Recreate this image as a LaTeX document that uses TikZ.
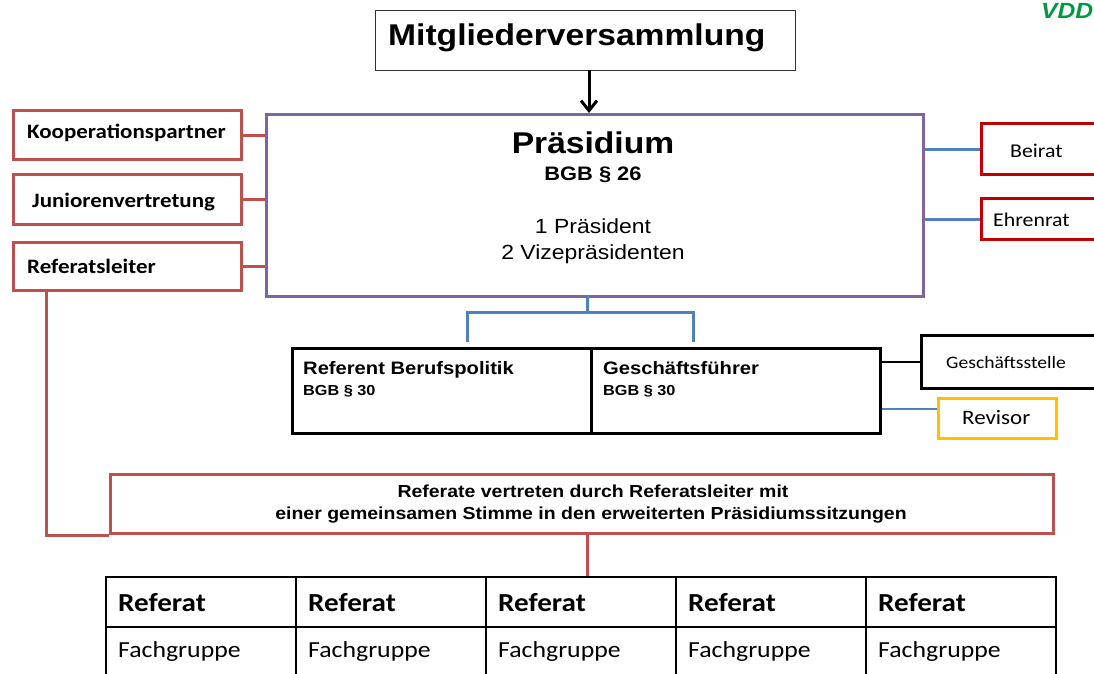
\documentclass[tikz,border=0pt]{standalone}
\usepackage{fontspec}
\setmainfont{Liberation Sans}[FakeStretch=1.12]
\newfontfamily\calib{Carlito}[FakeStretch=1.12]
\usetikzlibrary{arrows.meta}
\definecolor{cpurple}{HTML}{8064A2}
\definecolor{cred}{HTML}{C0504D}
\definecolor{cdred}{HTML}{C00000}
\definecolor{cblue}{HTML}{4F81BD}
\definecolor{cyel}{HTML}{FFC000}
\definecolor{cgreen}{HTML}{009A44}
\newcommand{\fs}[1]{\fontsize{#1}{#1}\selectfont}
\begin{document}
\begin{tikzpicture}[x=1pt,y=-1pt,
  box/.style={draw, inner sep=0pt, anchor=north west},
  txt/.style={anchor=base west, inner sep=0pt},
  redbox/.style={box, draw=cred, line width=3pt},
  dredbox/.style={box, draw=cdred, line width=3pt},
  blkbox/.style={box, draw=black, line width=2.5pt},
  redline/.style={draw=cred, line width=3pt},
  blueline/.style={draw=cblue, line width=3pt},
  cell/.style={box, draw=black, line width=1.5pt, minimum width=190pt}]
\clip (0,0) rectangle (1094,673);
\fill[white] (0,0) rectangle (1094,673);

% VDD
\node[txt, text=cgreen, font=\bfseries\itshape\fs{22}] (vdd) at (1041,18) {VDD};

% Mitgliederversammlung
\node[box, draw=black!80, line width=1pt, minimum width=420pt, minimum height=60pt] (mv) at (375,10) {};
\node[txt, font=\bfseries\fs{30}] (mvt) at (388,45) {Mitgliederversammlung};

% Praesidium
\node[box, draw=cpurple, line width=3pt, minimum width=657pt, minimum height=182pt] (pr) at (265,113) {};
\node[anchor=base, inner sep=0pt, font=\bfseries\fs{30}] (prt) at (593,153) {Präsidium};
\node[anchor=base, inner sep=0pt, font=\bfseries\fs{19.5}] (prb) at (593,180) {BGB § 26};
\node[anchor=base, inner sep=0pt, font=\fs{20.5}] (prp) at (593,233) {1 Präsident};
\node[anchor=base, inner sep=0pt, font=\fs{20.5}] (prv) at (593,259) {2 Vizepräsidenten};

\coordinate (ar) at (589,70);
\draw[-{Straight Barb[length=10pt,width=16pt]}, line width=3pt] (ar) -- (ar |- pr.north);

% left boxes
\node[redbox, minimum width=228pt, minimum height=49pt] (kp) at (12,109) {};
\node[txt, font=\calib\bfseries\fs{20.5}] (kpt) at (27,138) {Kooperationspartner};
\node[redbox, minimum width=228pt, minimum height=50pt] (jv) at (12,173) {};
\node[txt, font=\calib\bfseries\fs{20.5}] (jvt) at (32,207) {Juniorenvertretung};
\node[redbox, minimum width=228pt, minimum height=48pt] (rl) at (12,241) {};
\node[txt, font=\calib\bfseries\fs{20.5}] (rlt) at (27,273) {Referatsleiter};

\draw[redline] (kp.east) -- (kp.east -| pr.west);
\draw[redline] (jv.east) -- (jv.east -| pr.west);
\draw[redline] (rl.east) -- (rl.east -| pr.west);

% right boxes
\node[dredbox, minimum width=130pt, minimum height=51pt] (br) at (980,122) {};
\node[txt, font=\calib\fs{19.5}] (brt) at (1010,157) {Beirat};
\node[dredbox, minimum width=130pt, minimum height=41pt] (er) at (980,197) {};
\node[txt, font=\calib\fs{19.5}] (ert) at (993,226) {Ehrenrat};

\draw[blueline] (br.west) -- (br.west -| pr.east);
\draw[blueline] (er.west) -- (er.west -| pr.east);

% tree below Praesidium
\coordinate (t0) at (587,295);
\coordinate (t1) at (587,312);
\coordinate (tl) at (467,312);
\coordinate (tr) at (693,312);
\coordinate (tlb) at (467,342);
\coordinate (trb) at (693,342);
\draw[blueline] (t0) -- (t1);
\draw[blueline] (tlb) -- (tl) -- (tr) -- (trb);

% Referent / Geschaeftsfuehrer
\node[blkbox, minimum width=299pt, minimum height=85pt] (rb) at (291,347) {};
\node[txt, font=\bfseries\fs{18}] (rbt) at (303,374) {Referent Berufspolitik};
\node[txt, font=\bfseries\fs{14.5}] (rbb) at (303,395) {BGB § 30};
\node[blkbox, minimum width=289pt, minimum height=85pt] (gf) at (590,347) {};
\node[txt, font=\bfseries\fs{18}] (gft) at (603,374) {Geschäftsführer};
\node[txt, font=\bfseries\fs{14.5}] (gfb) at (603,395) {BGB § 30};

% Geschaeftsstelle / Revisor
\node[blkbox, minimum width=185pt, minimum height=53pt] (gs) at (920,334) {};
\node[txt, font=\calib\fs{17.5}] (gst) at (946,368) {Geschäftsstelle};
\draw[line width=2.5pt] (gs.west) -- (gs.west -| gf.east);
\node[box, draw=cyel, line width=2.5pt, minimum width=118pt, minimum height=40pt] (rv) at (937,397) {};
\node[txt, font=\calib\fs{20.5}] (rvt) at (962,424) {Revisor};
\coordinate (rvc) at (937,409);
\draw[draw=cblue, line width=1.5pt] (rvc) -- (rvc -| gf.east);

% Referate box
\node[redbox, minimum width=943pt, minimum height=59pt] (rf) at (109,473) {};
\node[anchor=base, inner sep=0pt, font=\bfseries\fs{17.4}] (rft1) at (593,497) {Referate vertreten durch Referatsleiter mit};
\node[anchor=base, inner sep=0pt, font=\bfseries\fs{17.4}] (rft2) at (591,519) {einer gemeinsamen Stimme in den erweiterten Präsidiumssitzungen};
\coordinate (rlc) at (46,289);
\draw[redline] (rlc) -- (rlc |- rf.south west) -- (rf.south west);
\coordinate (rfc) at (587,532);

% table
\foreach \i in {0,...,4} {
  \node[cell, minimum height=50pt] (h\i) at (105+190*\i,576) {};
  \node[cell, minimum height=70pt] (f\i) at (105+190*\i,626) {};
  \node[txt, font=\calib\bfseries\fs{26}] (ht\i) at (118+190*\i,611) {Referat};
  \node[txt, font=\calib\fs{23}] (ft\i) at (118+190*\i,657) {Fachgruppe};
}
\draw[redline] (rfc) -- (rfc |- h2.north);
\end{tikzpicture}
\end{document}
